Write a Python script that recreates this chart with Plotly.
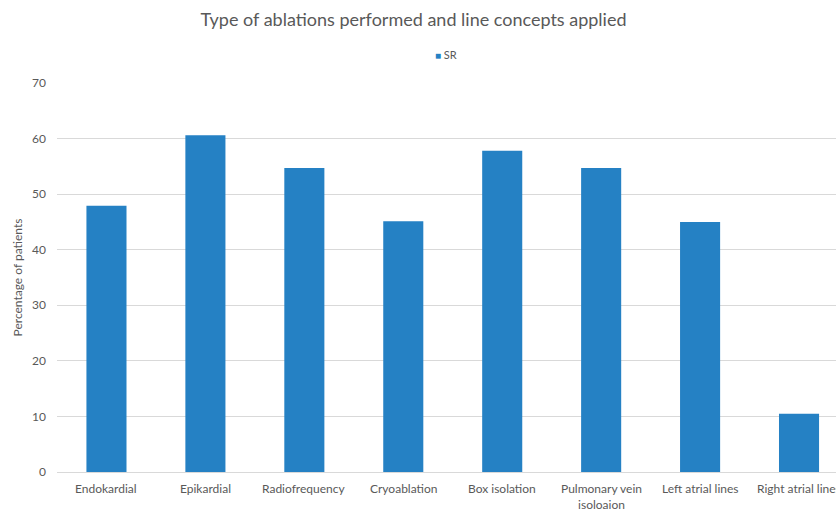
import plotly.graph_objects as go

categories = [
    "Endokardial",
    "Epikardial",
    "Radiofrequency",
    "Cryoablation",
    "Box isolation",
    "Pulmonary vein<br>isoloaion",
    "Left atrial lines",
    "Right atrial lines",
]
sr_values = [47.9, 60.6, 54.7, 45.1, 57.8, 54.7, 45.0, 10.5]
y_ticks = [0, 10, 20, 30, 40, 50, 60, 70]
series_name = "SR"
bar_color = "#2581C4"

W, H = 836, 510
left, top, bottom = 56.5, 83, 38
step = 99.0  # px per category
x_max = -0.5 + (W - left) / step
plot_h = H - top - bottom

text_color = "#595959"
font_family = "Lato, 'Open Sans', sans-serif"

fig = go.Figure(
    go.Bar(
        x=list(range(len(categories))),
        y=sr_values,
        name=series_name,
        marker=dict(color=bar_color, line=dict(width=0)),
        width=0.405,
        showlegend=False,
    )
)

# category labels below the axis (the last one runs off the right edge)
annotations = [
    dict(
        x=i,
        y=0,
        xref="x",
        yref="paper",
        text=label,
        showarrow=False,
        xanchor="center",
        yanchor="top",
        yshift=-7,
        align="center",
        font=dict(size=12, color=text_color),
    )
    for i, label in enumerate(categories)
]

# legend key: small square swatch followed by the series name
annotations.append(
    dict(
        x=417 / W,
        y=1 + 28 / plot_h,
        xref="paper",
        yref="paper",
        text=f"<span style='color:{bar_color};font-size:10px'>■</span> {series_name}",
        showarrow=False,
        xanchor="center",
        yanchor="middle",
        font=dict(size=11, color=text_color),
    )
)

fig.update_layout(
    width=W,
    height=H,
    margin=dict(l=left, r=0, t=top, b=bottom, pad=0),
    paper_bgcolor="white",
    plot_bgcolor="white",
    font=dict(family=font_family, color=text_color, size=12),
    title=dict(
        text="Type of ablations performed and line concepts applied",
        x=413.5 / W,
        xanchor="center",
        y=1 - 20 / H,
        yanchor="middle",
        yref="container",
        font=dict(size=18, color=text_color, family=font_family),
    ),
    showlegend=False,
    annotations=annotations,
    bargap=0.6,
)

fig.update_xaxes(
    range=[-0.5, x_max],
    showticklabels=False,
    showgrid=False,
    showline=True,
    linecolor="#d9d9d9",
    linewidth=1,
    ticks="",
    fixedrange=True,
    zeroline=False,
)

fig.update_yaxes(
    range=[0, 70],
    tickmode="array",
    tickvals=y_ticks,
    showgrid=True,
    gridcolor="#d9d9d9",
    gridwidth=1,
    zeroline=False,
    showline=False,
    ticks="",
    ticklabelstandoff=10,
    tickfont=dict(size=12, color=text_color),
    title=dict(text="Percentage of patients", font=dict(size=12, color=text_color), standoff=6),
)

fig.write_html("out.html")
